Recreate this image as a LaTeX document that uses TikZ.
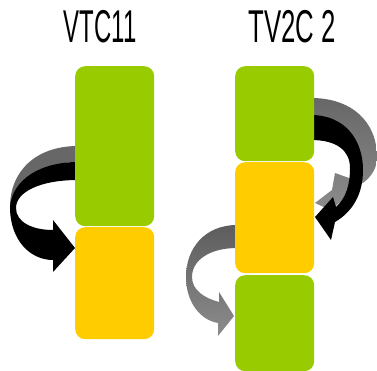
\documentclass[tikz,border=0pt]{standalone}
\usepackage{fontspec}
\setmainfont{Liberation Sans}
\begin{document}
\begin{tikzpicture}[x=1pt,y=-1pt]
\definecolor{leaf}{HTML}{99CC00}
\definecolor{sun}{HTML}{FFCC00}
\definecolor{backface}{HTML}{676767}
\definecolor{backlight}{HTML}{8C8C8C}
\tikzset{
  block/.style={rounded corners=10pt, inner sep=0pt, minimum width=79pt, anchor=north west},
  greenblock/.style={block, fill=leaf},
  yellowblock/.style={block, fill=sun},
  title/.style={anchor=base, inner sep=0pt, font=\fontsize{46}{46}\selectfont},
}
\useasboundingbox (0,0) rectangle (377,371);

% ---- column titles
\node[title] (t1) at (100,43) {\scalebox{0.52}[1]{VTC11}};
\node[title] (t2) at (292,43) {\scalebox{0.56}[1]{TV2C 2}};

% ---- left curved arrow (green block to yellow block)
\fill[backface] (78,146) .. controls (35,146) and (10,172) .. (10,207)
  -- (16,200) .. controls (22,178) and (45,162) .. (78,162) -- cycle;
\fill[black] (78,162) .. controls (40,162) and (12,180) .. (10,207)
  .. controls (10,240) and (30,260) .. (53,260) -- (53,272) -- (75,248)
  -- (53,220) -- (53,230) .. controls (32,230) and (16,222) .. (16,208)
  .. controls (16,192) and (40,180) .. (78,180) -- cycle;

% ---- right curved arrow (upper green block to yellow block)
\shade[top color=backface, bottom color=backlight]
  (311,98) .. controls (352,98) and (377,122) .. (377,157)
  .. controls (377,168) and (372,176) .. (363,183) -- (335,173)
  -- (332,190) -- (315,203) -- (330,210)
  .. controls (348,198) and (356,185) .. (356,168)
  .. controls (356,145) and (340,125) .. (311,125) -- cycle;
\fill[black] (311,115) .. controls (345,115) and (363,140) .. (363,170)
  .. controls (363,195) and (352,212) .. (335,222) -- (331,240) -- (315,217)
  -- (333,197) -- (336,207) .. controls (346,198) and (350,185) .. (350,168)
  .. controls (350,150) and (336,140) .. (311,140) -- cycle;

% ---- left curved arrow (yellow block to lower green block)
\shade[top color=backface!90!black, bottom color=backlight]
  (237,225) .. controls (205,225) and (186,248) .. (186,277)
  .. controls (186,302) and (200,320) .. (218,323) -- (218,336) -- (234,316)
  -- (219,292) -- (219,302) .. controls (204,298) and (192,290) .. (192,277)
  .. controls (192,260) and (210,248) .. (237,248) -- cycle;

% ---- blocks
\node[greenblock, minimum height=160pt] (lg) at (75,66) {};
\node[yellowblock, minimum height=112pt] (ly) at (75,227) {};
\node[greenblock, minimum height=95pt] (rg1) at (235,66) {};
\node[yellowblock, minimum height=111pt] (ry) at (235,162) {};
\node[greenblock, minimum height=96pt] (rg2) at (235,275) {};
\end{tikzpicture}
\end{document}
